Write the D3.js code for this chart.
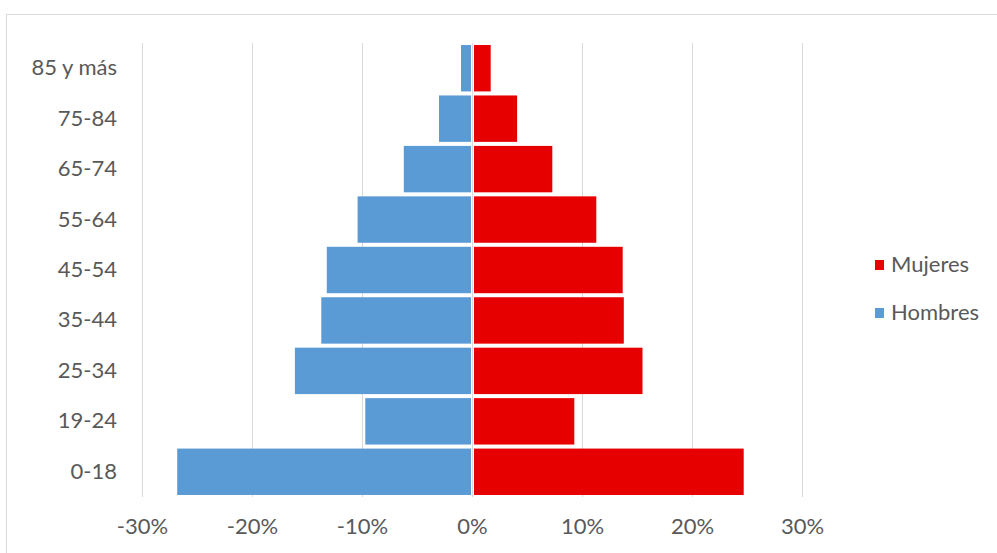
<!DOCTYPE html>
<head>
  <meta charset="utf-8">
  <script src="https://d3js.org/d3.v7.min.js"></script>
  <style>
    body { margin: 0; background: #fff; }
    svg { display: block; font-family: Lato, "Open Sans", sans-serif; }
  </style>
</head>

<body>
  <svg width="997" height="553"></svg>

  <script>
    // age groups, top to bottom
    const ageGroups = ['85 y más', '75-84', '65-74', '55-64', '45-54', '35-44', '25-34', '19-24', '0-18'];
    // share of population, %
    const hombres = [-1.0, -3.0, -6.2, -10.4, -13.2, -13.7, -16.1, -9.7, -26.8];
    const mujeres = [1.7, 4.1, 7.3, 11.3, 13.7, 13.8, 15.5, 9.3, 24.7];
    const xTicks = [-30, -20, -10, 0, 10, 20, 30];
    const seriesNames = ['Mujeres', 'Hombres'];
    const colors = { Mujeres: '#e60000', Hombres: '#5b9bd5' };

    const fontSize = 22;
    const textColor = '#595959';

    const svg = d3.select('svg');

    // chart frame
    svg.append('rect')
      .attr('x', 6.5).attr('y', 14.5)
      .attr('width', 1000).attr('height', 560)
      .attr('fill', 'none')
      .attr('stroke', '#d9d9d9');

    const x = d3.scaleLinear().domain([-30, 30]).range([142, 802]);
    const y = d3.scaleBand().domain(ageGroups).range([43, 497]).paddingInner(0.08).paddingOuter(0.04);

    // gridlines
    svg.append('g')
      .selectAll('line')
      .data(xTicks)
      .join('line')
      .attr('x1', d => x(d) + 0.5).attr('x2', d => x(d) + 0.5)
      .attr('y1', 43).attr('y2', 497)
      .attr('stroke', '#d9d9d9');

    const rows = ageGroups.map((g, i) => ({ g, h: hombres[i], m: mujeres[i] }));

    svg.append('g')
      .selectAll('rect')
      .data(rows)
      .join('rect')
      .attr('x', d => x(d.h))
      .attr('y', d => y(d.g))
      .attr('width', d => x(0) - 1 - x(d.h))
      .attr('height', y.bandwidth())
      .attr('fill', colors.Hombres);

    svg.append('g')
      .selectAll('rect')
      .data(rows)
      .join('rect')
      .attr('x', x(0) + 2)
      .attr('y', d => y(d.g))
      .attr('width', d => x(d.m) - x(0) - 2)
      .attr('height', y.bandwidth())
      .attr('fill', colors.Mujeres);

    // y axis labels
    const yAxis = svg.append('g')
      .attr('transform', 'translate(127,0)')
      .call(d3.axisLeft(y).tickSize(0).tickPadding(10));
    yAxis.select('.domain').remove();
    yAxis.selectAll('text')
      .attr('font-size', fontSize)
      .attr('font-family', 'Lato, "Open Sans", sans-serif')
      .attr('fill', textColor);

    // x axis labels
    const xAxis = svg.append('g')
      .attr('transform', 'translate(0,508)')
      .call(d3.axisBottom(x).tickValues(xTicks).tickSize(0).tickPadding(10).tickFormat(d => d + '%'));
    xAxis.select('.domain').remove();
    xAxis.selectAll('text')
      .attr('font-size', fontSize)
      .attr('font-family', 'Lato, "Open Sans", sans-serif')
      .attr('fill', textColor);

    // legend
    const legend = svg.append('g')
      .selectAll('g')
      .data(seriesNames)
      .join('g')
      .attr('transform', (d, i) => `translate(875,${264 + i * 48})`);
    legend.append('rect')
      .attr('x', 0).attr('y', -4)
      .attr('width', 9).attr('height', 10)
      .attr('fill', d => colors[d]);
    legend.append('text')
      .attr('x', 16).attr('y', 0)
      .attr('dy', '0.35em')
      .attr('font-size', fontSize)
      .attr('fill', textColor)
      .text(d => d);
  </script>
</body>
